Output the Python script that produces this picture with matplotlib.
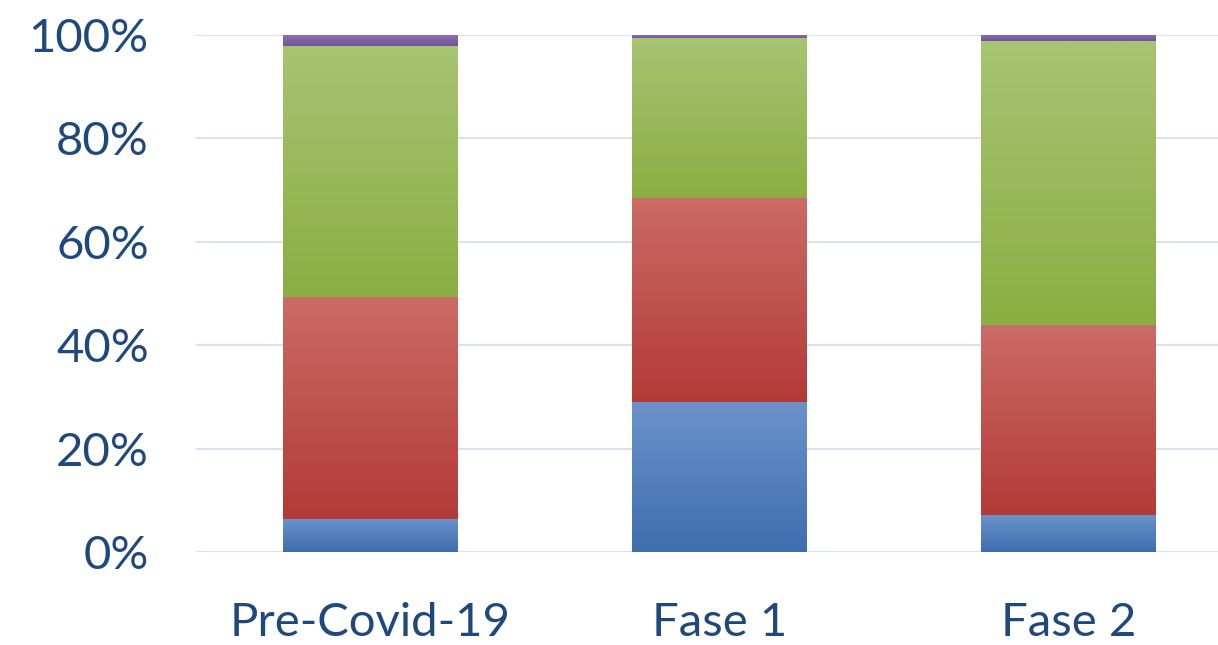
import numpy as np
import matplotlib.pyplot as plt
from matplotlib.colors import LinearSegmentedColormap

categories = ["Pre-Covid-19", "Fase 1", "Fase 2"]
blue = [6.4, 29.0, 7.2]
red = [42.9, 39.5, 36.7]
green = [48.6, 31.0, 54.9]
purple = [2.1, 0.5, 1.2]
yticks = [0, 20, 40, 60, 80, 100]

series = [blue, red, green, purple]
# (top colour, bottom colour) for each series gradient
grads = [("#6b93c9", "#3d6eb0"), ("#cb6b67", "#b33a37"),
         ("#a7c472", "#8bae42"), ("#8c6eb1", "#71539a")]

fig = plt.figure(figsize=(12.18, 6.45), dpi=100)
ax = fig.add_axes([196/1218, 1-552/645, 1047/1218, 517/645])

x = np.arange(len(categories))
bottom = np.zeros(len(categories))
grad_img = np.linspace(1, 0, 256).reshape(-1, 1)
for vals, (ctop, cbot) in zip(series, grads):
    bars = ax.bar(x, vals, width=0.5, bottom=bottom, color=cbot, zorder=2)
    cmap = LinearSegmentedColormap.from_list("g", [cbot, ctop])
    for b in bars:
        x0, y0 = b.get_x(), b.get_y()
        w, h = b.get_width(), b.get_height()
        im = ax.imshow(grad_img, cmap=cmap, aspect="auto", origin="upper",
                       extent=[x0, x0 + w, y0, y0 + h], zorder=3, vmin=0, vmax=1)
        im.set_clip_path(b)
    bottom += np.array(vals)

ax.set_xlim(-0.5, len(categories) - 0.5)
ax.set_ylim(0, 100)
ax.set_yticks(yticks)
ax.set_yticklabels([f"{t}%" for t in yticks])
ax.set_xticks(x)
ax.set_xticklabels(categories)
ax.grid(axis="y", color="#d9e3f0", linewidth=1.5, zorder=0)
ax.set_axisbelow(True)
for s in ax.spines.values():
    s.set_visible(False)
ax.tick_params(length=0, labelsize=34, colors="#1f497d")
for lab in ax.get_xticklabels() + ax.get_yticklabels():
    lab.set_family("Lato")
ax.tick_params(axis="y", pad=34)
ax.tick_params(axis="x", pad=36)

fig.savefig("out.png", dpi=100)
